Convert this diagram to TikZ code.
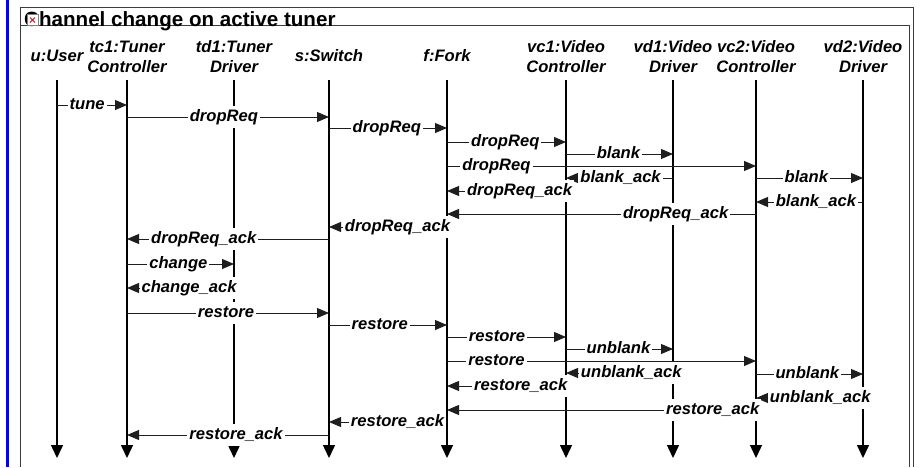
\documentclass[tikz,border=0pt]{standalone}
\usepackage{fontspec}
\setmainfont{Liberation Sans}
\usetikzlibrary{arrows.meta,positioning}
\definecolor{framegray}{RGB}{60,60,60}
\definecolor{linegray}{RGB}{30,30,30}
\definecolor{iconred}{RGB}{230,0,0}

\begin{document}
\begin{tikzpicture}[x=1pt, y=-1pt]
\tikzstyle{head} = [anchor=south, inner sep=0pt, text depth=0pt, align=center, font=\fontsize{16.6}{20}\selectfont\bfseries\itshape]
\tikzstyle{life} = [line width=1.4pt, draw=black, -{Triangle[length=13pt,width=12pt]}]
\tikzstyle{msg} = [line width=0.9pt, draw=linegray, -{Triangle[length=12pt,width=10pt]}]
\tikzstyle{lbl} = [fill=white, inner xsep=2pt, inner ysep=2pt, text height=13pt, text depth=5pt, font=\fontsize{16.6}{20}\selectfont\bfseries\itshape]
\useasboundingbox (0,0) rectangle (923,467);

% frame
\fill[blue] (6,0) rectangle (9,467);
\draw[framegray, line width=1pt] (20,467) -- (20,7) -- (913,7) -- (913,467);
\draw[framegray, line width=1pt] (20,25) -- (909,25) -- (909,467);
\node[anchor=base west, inner sep=0pt, font=\fontsize{20.6}{24}\selectfont\bfseries] (title) at (24,26.5) {Channel change on active tuner};
\node[draw=gray, fill=white, minimum size=11pt, inner sep=0pt] (icon) at (32.5,20) {};
\draw[iconred, line width=0.8pt] ([shift={(-2.5,-2.5)}]icon.center) -- ([shift={(2.5,2.5)}]icon.center);
\draw[iconred, line width=0.8pt] ([shift={(-2.5,2.5)}]icon.center) -- ([shift={(2.5,-2.5)}]icon.center);

% objects
\node[head] (u) at (57,62) {u:User};
\node[head] (tc1) at (127,73) {tc1:Tuner\\Controller};
\node[head] (td1) at (234,73) {td1:Tuner\\Driver};
\node[head] (s) at (329,62) {s:Switch};
\node[head] (f) at (447,62) {f:Fork};
\node[head] (vc1) at (566,73) {vc1:Video\\Controller};
\node[head] (vd1) at (673,73) {vd1:Video\\Driver};
\node[head] (vc2) at (756,73) {vc2:Video\\Controller};
\node[head] (vd2) at (863,73) {vd2:Video\\Driver};

% lifelines
\draw[life] (u |- 0,80) -- (u |- 0,458);
\draw[life] (tc1 |- 0,80) -- (tc1 |- 0,458);
\draw[life] (td1 |- 0,80) -- (td1 |- 0,458);
\draw[life] (s |- 0,80) -- (s |- 0,458);
\draw[life] (f |- 0,80) -- (f |- 0,458);
\draw[life] (vc1 |- 0,80) -- (vc1 |- 0,458);
\draw[life] (vd1 |- 0,80) -- (vd1 |- 0,458);
\draw[life] (vc2 |- 0,80) -- (vc2 |- 0,458);
\draw[life] (vd2 |- 0,80) -- (vd2 |- 0,458);

% drop
\draw[msg] (u |- 0,105) -- node[lbl, pos=0.43] {tune} (tc1 |- 0,105);
\draw[msg] (tc1 |- 0,117) -- node[lbl, pos=0.48] {dropReq} (s |- 0,117);
\draw[msg] (s |- 0,128) -- node[lbl, pos=0.49] {dropReq} (f |- 0,128);
\draw[msg] (f |- 0,142) -- node[lbl, pos=0.49] {dropReq} (vc1 |- 0,142);
\draw[msg] (vc1 |- 0,154) -- node[lbl, pos=0.49] {blank} (vd1 |- 0,154);
\draw[msg] (f |- 0,166) -- node[lbl, pos=0.16] {dropReq} (vc2 |- 0,166);
\draw[msg] (vd1 |- 0,178) -- node[lbl, pos=0.49] {blank\_ack} (vc1 |- 0,178);
\draw[msg] (vc2 |- 0,178) -- node[lbl, pos=0.47] {blank} (vd2 |- 0,178);
\draw[msg] (vc1 |- 0,191) -- node[lbl, pos=0.39] {dropReq\_ack} (f |- 0,191);
\draw[msg] (vd2 |- 0,202) -- node[lbl, pos=0.44] {blank\_ack} (vc2 |- 0,202);
\draw[msg] (vc2 |- 0,214) -- node[lbl, pos=0.26] {dropReq\_ack} (f |- 0,214);
\draw[msg] (f |- 0,227) -- node[lbl, pos=0.42] {dropReq\_ack} (s |- 0,227);
\draw[msg] (s |- 0,239) -- node[lbl, pos=0.62] {dropReq\_ack} (tc1 |- 0,239);

% change
\draw[msg] (tc1 |- 0,264) -- node[lbl, pos=0.48] {change} (td1 |- 0,264);
\draw[msg] (td1 |- 0,288) -- node[lbl, pos=0.42] {change\_ack} (tc1 |- 0,288);

% restore
\draw[msg] (tc1 |- 0,313) -- node[lbl, pos=0.49] {restore} (s |- 0,313);
\draw[msg] (s |- 0,325) -- node[lbl, pos=0.43] {restore} (f |- 0,325);
\draw[msg] (f |- 0,337) -- node[lbl, pos=0.42] {restore} (vc1 |- 0,337);
\draw[msg] (vc1 |- 0,349) -- node[lbl, pos=0.49] {unblank} (vd1 |- 0,349);
\draw[msg] (f |- 0,361) -- node[lbl, pos=0.16] {restore} (vc2 |- 0,361);
\draw[msg] (vd1 |- 0,373) -- node[lbl, pos=0.39] {unblank\_ack} (vc1 |- 0,373);
\draw[msg] (vc2 |- 0,374) -- node[lbl, pos=0.48] {unblank} (vd2 |- 0,374);
\draw[msg] (vc1 |- 0,386) -- node[lbl, pos=0.38] {restore\_ack} (f |- 0,386);
\draw[msg] (vd2 |- 0,398) -- node[lbl, pos=0.40] {unblank\_ack} (vc2 |- 0,398);
\draw[msg] (vc2 |- 0,410) -- node[lbl, pos=0.14] {restore\_ack} (f |- 0,410);
\draw[msg] (f |- 0,422) -- node[lbl, pos=0.42] {restore\_ack} (s |- 0,422);
\draw[msg] (s |- 0,435) -- node[lbl, pos=0.46] {restore\_ack} (tc1 |- 0,435);
\end{tikzpicture}
\end{document}
